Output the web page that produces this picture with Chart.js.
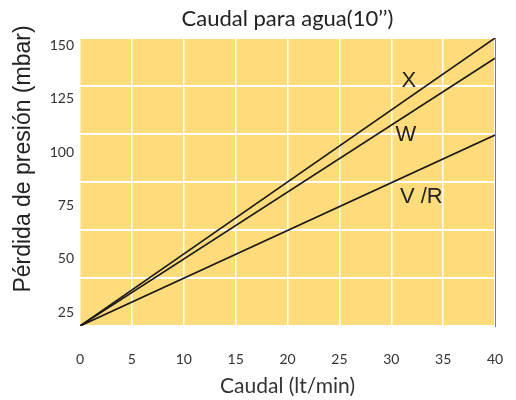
<!DOCTYPE html>
<html>
<head>
<meta charset="utf-8">
<script src="https://cdn.jsdelivr.net/npm/chart.js@4"></script>
<style>
  html, body { margin: 0; padding: 0; background: #fff; }
  #wrap { width: 516px; height: 400px; }
</style>
</head>
<body>
<div id="wrap"><canvas id="chart"></canvas></div>
<script>
// Flow (lt/min) and pressure loss (mbar) per cartridge type
const flow = [0, 40];
const lossX = [18.5, 153.5];
const lossW = [18.5, 144];
const lossVR = [18.5, 108];
const seriesNames = ['X', 'W', 'V /R'];
// where the name of each line sits (flow, mbar)
const nameFlow = [31.7, 31.4, 32.9];
const nameLoss = [133.5, 108, 79];

const xTicks = [0, 5, 10, 15, 20, 25, 30, 35, 40];
const yTicks = [25, 50, 75, 100, 125, 150];

const toPoints = (ys) => flow.map((x, i) => ({ x: x, y: ys[i] }));

Chart.defaults.font.family = 'Lato';
Chart.defaults.color = '#333';

// yellow plot area, chart title, y title and line names
const decor = {
    id: 'decor',
    beforeDraw(chart) {
        const { ctx, chartArea: a } = chart;
        ctx.save();
        ctx.fillStyle = '#FFDC7B';
        ctx.fillRect(a.left, a.top, a.right - a.left, a.bottom - a.top);
        ctx.restore();
    },
    afterDatasetsDraw(chart) {
        const { ctx, chartArea: a, scales } = chart;
        ctx.save();
        ctx.fillStyle = '#222';
        ctx.textAlign = 'center';
        ctx.textBaseline = 'middle';
        ctx.font = '22px Lato';
        ctx.fillText('Caudal para agua(10\u2019\u2019)', (a.left + a.right) / 2, 19);

        ctx.font = '23px "Liberation Sans"';
        ctx.save();
        ctx.translate(24, 159);
        ctx.rotate(-Math.PI / 2);
        ctx.fillText('Pérdida de presión (mbar)', 0, 0);
        ctx.restore();

        ctx.font = '22px "Liberation Sans"';
        seriesNames.forEach((name, i) => {
            ctx.fillText(name, scales.x.getPixelForValue(nameFlow[i]), scales.y.getPixelForValue(nameLoss[i]));
        });
        ctx.restore();
    }
};

const lineStyle = { borderColor: '#1a1a1a', borderWidth: 1.6, pointRadius: 0, fill: false, tension: 0 };

new Chart(document.getElementById('chart'), {
    type: 'line',
    data: {
        datasets: [
            { label: seriesNames[0], data: toPoints(lossX), ...lineStyle },
            { label: seriesNames[1], data: toPoints(lossW), ...lineStyle },
            { label: seriesNames[2], data: toPoints(lossVR), ...lineStyle }
        ]
    },
    options: {
        responsive: true,
        maintainAspectRatio: false,
        animation: false,
        layout: { padding: { top: 38, right: 21, bottom: 0, left: 0 } },
        plugins: {
            legend: { display: false },
            tooltip: { enabled: false }
        },
        scales: {
            x: {
                type: 'linear',
                min: 0,
                max: 40,
                afterBuildTicks: (s) => { s.ticks = xTicks.map(v => ({ value: v })); },
                afterFit: (s) => { s.height = 74; },
                // invisible tick marks push the labels down without widening the side padding
                grid: { color: '#fff', lineWidth: 1.5, drawTicks: true, tickLength: 25, tickColor: 'rgba(0,0,0,0)' },
                border: { display: false },
                ticks: { padding: 0, font: { size: 14 }, color: '#333' },
                title: {
                    display: true,
                    text: 'Caudal (lt/min)',
                    font: { size: 21 },
                    color: '#333',
                    padding: { top: 0, bottom: 1 }
                }
            },
            y: {
                type: 'linear',
                position: 'left',
                min: 18.5,
                max: 153.5,
                afterBuildTicks: (s) => { s.ticks = yTicks.map(v => ({ value: v })); },
                afterFit: (s) => { s.width = 80; },
                grid: { display: false, drawTicks: false },
                border: { display: false },
                ticks: { padding: 6, font: { size: 14 }, color: '#333' }
            },
            yGrid: {
                type: 'linear',
                position: 'left',
                min: 0,
                max: 6,
                afterBuildTicks: (s) => { s.ticks = [0, 1, 2, 3, 4, 5, 6].map(v => ({ value: v })); },
                afterFit: (s) => { s.width = 0; },
                grid: { color: '#fff', lineWidth: 2, drawTicks: false },
                border: { display: false },
                ticks: { display: false }
            },
            yEdge: {
                type: 'linear',
                position: 'right',
                min: 0,
                max: 1,
                afterFit: (s) => { s.width = 0; },
                grid: { display: false, drawTicks: false },
                border: { display: true, color: '#E4572E', width: 1, dash: [3, 2] },
                ticks: { display: false }
            }
        }
    },
    plugins: [decor]
});
</script>
</body>
</html>
